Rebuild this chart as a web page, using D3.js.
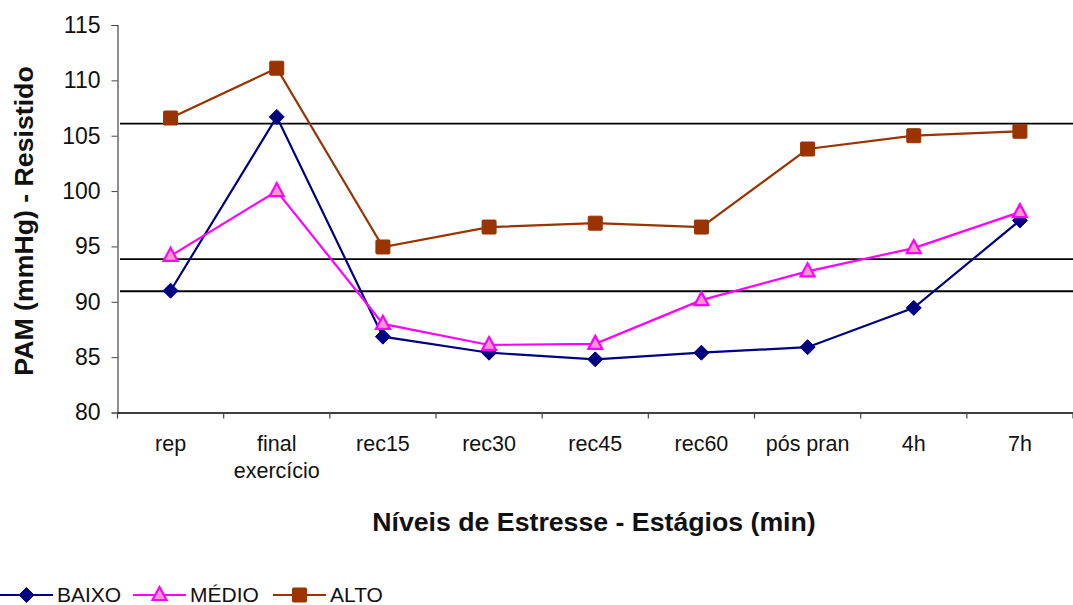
<!DOCTYPE html>
<html>
<head>
<meta charset="utf-8">
<script src="https://cdn.jsdelivr.net/npm/d3@7"></script>
<style>
  html, body { margin: 0; padding: 0; background: #fff; }
  svg { display: block; font-family: "Liberation Sans", Arial, sans-serif; }
</style>
</head>
<body>
<svg id="chart" width="1073" height="605"></svg>
<script>
// Stages on the x axis
const categories = ["rep", "final\nexercício", "rec15", "rec30", "rec45", "rec60", "pós pran", "4h", "7h"];
// Mean arterial pressure per stress level
const baixo = [91.0, 106.7, 86.85, 85.4, 84.8, 85.4, 85.9, 89.45, 97.35];
const medio = [94.15, 100.0, 88.0, 86.1, 86.2, 90.15, 92.75, 94.85, 98.1];
const alto  = [106.6, 111.1, 94.95, 96.75, 97.1, 96.75, 103.8, 105.0, 105.4];
// Reference levels drawn as horizontal lines
const refLines = [106.1, 93.85, 90.95];
const yTicks = [80, 85, 90, 95, 100, 105, 110, 115];

const svg = d3.select("#chart");
const plotLeft = 117.5, plotRight = 1073, plotTop = 25, plotBottom = 412.5;

const x = d3.scaleBand().domain(categories).range([plotLeft, plotRight]);
const y = d3.scaleLinear().domain([80, 115]).range([plotBottom, plotTop]);

// Reference lines
svg.selectAll("line.ref").data(refLines).enter().append("line")
  .attr("x1", 120).attr("x2", plotRight)
  .attr("y1", d => y(d)).attr("y2", d => y(d))
  .attr("stroke", "#000").attr("stroke-width", 1.8);

// Y axis
const yAxis = svg.append("g").attr("transform", `translate(${plotLeft},0)`)
  .call(d3.axisLeft(y).tickValues(yTicks).tickSize(6).tickPadding(11));
yAxis.select(".domain").attr("stroke", "#444").attr("stroke-width", 1.2);
yAxis.selectAll(".tick line").attr("stroke", "#444");
yAxis.selectAll("text").attr("font-size", 23).attr("fill", "#111")
  .attr("font-family", "Liberation Sans, Arial, sans-serif");

// X axis
const xAxis = svg.append("g").attr("transform", `translate(0,${plotBottom})`)
  .call(d3.axisBottom(x).tickSize(0).tickFormat(""));
xAxis.select(".domain").attr("stroke", "#000").attr("stroke-width", 1.4);
// Tick marks sit on the band boundaries
const bounds = categories.map(c => x(c)).concat([plotRight]);
svg.selectAll("line.xt").data(bounds).enter().append("line")
  .attr("x1", d => d).attr("x2", d => d)
  .attr("y1", plotBottom).attr("y2", plotBottom + 6)
  .attr("stroke", "#444").attr("stroke-width", 1.2);

// Category labels
const cx = c => x(c) + x.bandwidth() / 2;
categories.forEach(c => {
  const t = svg.append("text").attr("text-anchor", "middle")
    .attr("font-size", 21.5).attr("fill", "#111");
  c.split("\n").forEach((ln, i) => {
    t.append("tspan").attr("x", cx(c)).attr("y", 451 + i * 26.5).text(ln);
  });
});

// Axis titles
svg.append("text").attr("x", 594).attr("y", 531).attr("text-anchor", "middle")
  .attr("font-size", 26.7).attr("font-weight", "bold").attr("fill", "#111")
  .text("Níveis de Estresse - Estágios (min)");
svg.append("text").attr("transform", "translate(33,221) rotate(-90)")
  .attr("text-anchor", "middle")
  .attr("font-size", 26.7).attr("font-weight", "bold").attr("fill", "#111")
  .text("PAM (mmHg) - Resistido");

const series = [
  { name: "BAIXO", values: baixo, color: "#000080", fill: "#000080", marker: "diamond" },
  { name: "MÉDIO", values: medio, color: "#FF00FF", fill: "#FF99CC", marker: "triangle" },
  { name: "ALTO",  values: alto,  color: "#993300", fill: "#993300", marker: "square" }
];

function drawMarker(g, type, px, py, s) {
  if (type === "diamond") {
    g.append("path").attr("d", `M${px},${py - 7.5}L${px + 7.5},${py}L${px},${py + 7.5}L${px - 7.5},${py}Z`)
      .attr("fill", s.fill).attr("stroke", s.color).attr("stroke-width", 1);
  } else if (type === "square") {
    g.append("rect").attr("x", px - 7).attr("y", py - 7)
      .attr("width", 14).attr("height", 14).attr("rx", 1)
      .attr("fill", s.fill).attr("stroke", s.color).attr("stroke-width", 1);
  } else {
    g.append("path").attr("d", `M${px},${py - 8}L${px + 7},${py + 5}L${px - 7},${py + 5}Z`)
      .attr("fill", s.fill).attr("stroke", s.color).attr("stroke-width", 2.2);
  }
}

const line = d3.line().x((d, i) => cx(categories[i])).y(d => y(d));
series.forEach(s => {
  svg.append("path").datum(s.values).attr("d", line)
    .attr("fill", "none").attr("stroke", s.color).attr("stroke-width", 2.2);
});
series.forEach(s => {
  const g = svg.append("g");
  s.values.forEach((v, i) => drawMarker(g, s.marker, cx(categories[i]), y(v), s));
});

// Legend
const legendX = [0, 133, 273];
series.forEach((s, i) => {
  const g = svg.append("g").attr("transform", `translate(${legendX[i]},595)`);
  g.append("line").attr("x1", 0).attr("x2", 53).attr("y1", 0).attr("y2", 0)
    .attr("stroke", s.color).attr("stroke-width", 2.2);
  drawMarker(g, s.marker, 26.5, 0, s);
  g.append("text").attr("x", 57).attr("y", 6.7).attr("font-size", 21)
    .attr("fill", "#111").text(s.name);
});
</script>
</body>
</html>
